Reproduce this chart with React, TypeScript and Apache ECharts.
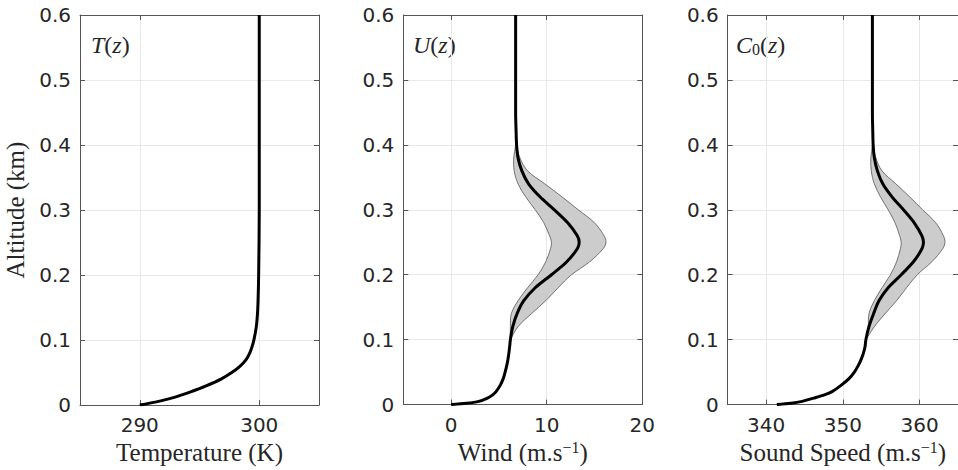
import React, { useEffect, useRef } from "react";
import * as echarts from "echarts";

// ---- Data ----
const altitudeT = [0, 0.005, 0.01, 0.015, 0.02, 0.03, 0.04, 0.05, 0.06, 0.07, 0.08, 0.09, 0.1, 0.12, 0.14, 0.16, 0.2, 0.3, 0.4, 0.5, 0.6];
const temperature = [290, 291.4, 292.5, 293.4, 294.2, 295.6, 296.8, 297.7, 298.4, 298.9, 299.2, 299.4, 299.55, 299.75, 299.85, 299.9, 299.95, 300, 300, 300, 300];

const altitude = [0, 0.002, 0.005, 0.01, 0.015, 0.02, 0.03, 0.04, 0.05, 0.06, 0.07, 0.08, 0.09, 0.1, 0.12, 0.14, 0.16, 0.18, 0.2, 0.22, 0.24, 0.25, 0.26, 0.28, 0.3, 0.32, 0.34, 0.36, 0.38, 0.4, 0.42, 0.45, 0.5, 0.6];
const wind = [0, 1.6, 2.9, 3.8, 4.35, 4.7, 5.15, 5.45, 5.65, 5.82, 5.95, 6.05, 6.13, 6.2, 6.45, 6.9, 7.6, 8.8, 10.5, 12.1, 13.2, 13.4, 13.2, 12.2, 10.8, 9.3, 8.1, 7.4, 7.0, 6.85, 6.8, 6.75, 6.75, 6.75];
const soundSpeed = [341.4, 343.2, 344.7, 346.2, 347.6, 348.6, 349.8, 350.8, 351.5, 352.0, 352.4, 352.7, 352.9, 353.0, 353.4, 354.0, 354.7, 355.9, 357.6, 359.2, 360.3, 360.5, 360.3, 359.3, 357.9, 356.4, 355.2, 354.5, 354.1, 353.95, 353.9, 353.85, 353.85, 353.85];

const altitudeBand = [0.1, 0.12, 0.14, 0.16, 0.18, 0.2, 0.22, 0.24, 0.25, 0.26, 0.28, 0.3, 0.32, 0.34, 0.36, 0.38, 0.4, 0.42];
const windUpper = [6.2, 7.0, 8.4, 9.9, 11.2, 12.6, 14.5, 15.9, 16.2, 16.0, 15.0, 13.3, 11.6, 9.8, 8.0, 7.2, 6.85, 6.8];
const windLower = [6.2, 6.2, 6.3, 7.0, 8.0, 9.1, 9.9, 10.4, 10.5, 10.3, 9.7, 8.8, 7.8, 7.0, 6.6, 6.55, 6.75, 6.8];
const soundUpper = [353.0, 354.1, 355.5, 357.0, 358.3, 359.7, 361.6, 363.0, 363.3, 363.1, 362.1, 360.4, 358.7, 356.9, 355.1, 354.3, 353.95, 353.9];
const soundLower = [353.0, 353.3, 353.4, 354.1, 355.1, 356.2, 357.0, 357.5, 357.6, 357.4, 356.8, 355.9, 354.9, 354.1, 353.7, 353.65, 353.85, 353.9];

const xTicksT = [290, 300];
const xTicksU = [0, 10, 20];
const xTicksC = [340, 350, 360];
const xRanges = [[285, 305], [-5, 20], [335, 365]];

const AXIS_COLOR = "#555555";
const TEXT_COLOR = "#262626";
const GRID_COLOR = "#e8e8e8";
const SERIF = "'Liberation Serif', 'DejaVu Serif', serif";
const SANS = "'DejaVu Sans', sans-serif";

export default function App() {
  const ref = useRef<HTMLDivElement>(null);

  useEffect(() => {
    const chart = echarts.init(ref.current as HTMLDivElement, null, { renderer: "svg" });

    const lefts = [80, 403.3, 727.7];
    const grids = lefts.map((l) => ({ left: l, top: 15, width: 239, height: 394 }));
    const tickSets = [xTicksT, xTicksU, xTicksC];
    const richName = {
      n: { fontFamily: SERIF, fontSize: 25, color: TEXT_COLOR },
      sup: { fontFamily: SERIF, fontSize: 16, color: TEXT_COLOR, verticalAlign: "top", padding: [0, 0, 10, 0] },
    };
    const names = [
      "{n|Temperature (K)}",
      "{n|Wind (m.s}{sup|−1}{n|)}",
      "{n|Sound Speed (m.s}{sup|−1}{n|)}",
    ];

    const xAxes: any[] = [];
    const yAxes: any[] = [];
    for (let i = 0; i < 3; i++) {
      const [mn, mx] = xRanges[i];
      xAxes.push({
        type: "value",
        gridIndex: i,
        min: mn,
        max: mx,
        position: "bottom",
        axisLine: { show: true, onZero: false, lineStyle: { color: AXIS_COLOR, width: 1 } },
        axisTick: { show: true, inside: true, length: 5, customValues: tickSets[i], lineStyle: { color: AXIS_COLOR } },
        axisLabel: { customValues: tickSets[i], fontFamily: SANS, fontSize: 20, color: TEXT_COLOR, margin: 10 },
        splitLine: { show: true, lineStyle: { color: GRID_COLOR, width: 1 } },
        name: names[i],
        nameLocation: "middle",
        nameGap: 33,
        nameTextStyle: { rich: richName },
      });
      xAxes.push({
        type: "value",
        gridIndex: i,
        min: mn,
        max: mx,
        position: "top",
        axisLine: { show: true, onZero: false, lineStyle: { color: AXIS_COLOR, width: 1 } },
        axisTick: { show: true, inside: true, length: 5, customValues: tickSets[i], lineStyle: { color: AXIS_COLOR } },
        axisLabel: { show: false },
        splitLine: { show: false },
      });
      yAxes.push({
        type: "value",
        gridIndex: i,
        min: 0,
        max: 0.6,
        interval: 0.1,
        position: "left",
        axisLine: { show: true, onZero: false, lineStyle: { color: AXIS_COLOR, width: 1 } },
        axisTick: { show: true, inside: true, length: 5, lineStyle: { color: AXIS_COLOR } },
        axisLabel: { fontFamily: SANS, fontSize: 20, color: TEXT_COLOR, margin: 9 },
        splitLine: { show: true, lineStyle: { color: GRID_COLOR, width: 1 } },
        name: i === 0 ? "Altitude (km)" : "",
        nameLocation: "middle",
        nameGap: 52,
        nameTextStyle: { fontFamily: SERIF, fontSize: 25, color: TEXT_COLOR },
      });
      yAxes.push({
        type: "value",
        gridIndex: i,
        min: 0,
        max: 0.6,
        interval: 0.1,
        position: "right",
        axisLine: { show: true, onZero: false, lineStyle: { color: AXIS_COLOR, width: 1 } },
        axisTick: { show: true, inside: true, length: 5, lineStyle: { color: AXIS_COLOR } },
        axisLabel: { show: false },
        splitLine: { show: false },
      });
    }

    const bandSeries = (idx: number, upper: number[], lower: number[]) => ({
      type: "custom",
      xAxisIndex: idx * 2,
      yAxisIndex: idx * 2,
      silent: true,
      z: 1,
      data: [[upper[0], altitudeBand[0]]],
      renderItem: (_params: any, api: any) => {
        const pts: number[][] = [];
        for (let k = 0; k < altitudeBand.length; k++) pts.push(api.coord([upper[k], altitudeBand[k]]));
        for (let k = altitudeBand.length - 1; k >= 0; k--) pts.push(api.coord([lower[k], altitudeBand[k]]));
        return {
          type: "polygon",
          shape: { points: pts, smooth: 0.35 },
          style: { fill: "#cccccc", stroke: "#555555", lineWidth: 0.8 },
        };
      },
    });

    const lineSeries = (idx: number, xs: number[], zs: number[]) => ({
      type: "line",
      xAxisIndex: idx * 2,
      yAxisIndex: idx * 2,
      data: zs.map((z, k) => [xs[k], z]),
      showSymbol: false,
      smooth: 0.3,
      z: 3,
      lineStyle: { color: "#000000", width: 3 },
    });

    const labelRich = (fs: number) => ({
      i: { fontFamily: SERIF, fontStyle: "italic", fontSize: fs, fill: TEXT_COLOR },
      r: { fontFamily: SERIF, fontSize: fs, fill: TEXT_COLOR },
      sub: { fontFamily: SERIF, fontSize: 16, fill: TEXT_COLOR, verticalAlign: "bottom" },
    });

    const option: any = {
      animation: false,
      backgroundColor: "#ffffff",
      grid: grids,
      xAxis: xAxes,
      yAxis: yAxes,
      series: [
        lineSeries(0, temperature, altitudeT),
        bandSeries(1, windUpper, windLower),
        lineSeries(1, wind, altitude),
        bandSeries(2, soundUpper, soundLower),
        lineSeries(2, soundSpeed, altitude),
      ],
      graphic: [
        { type: "text", left: 91, top: 33, style: { text: "{i|T}{r|(}{i|z}{r|)}", rich: labelRich(24) } },
        { type: "text", left: 413, top: 33, style: { text: "{i|U}{r|(}{i|z}{r|)}", rich: labelRich(24) } },
        { type: "text", left: 736, top: 33, style: { text: "{i|C}{sub|0}{r|(}{i|z}{r|)}", rich: labelRich(24) } },
      ],
    };

    chart.setOption(option);
    return () => chart.dispose();
  }, []);

  return (
    <div
      ref={ref}
      style={{ position: "fixed", left: 0, top: 0, width: 958, height: 470, background: "#ffffff" }}
    />
  );
}
